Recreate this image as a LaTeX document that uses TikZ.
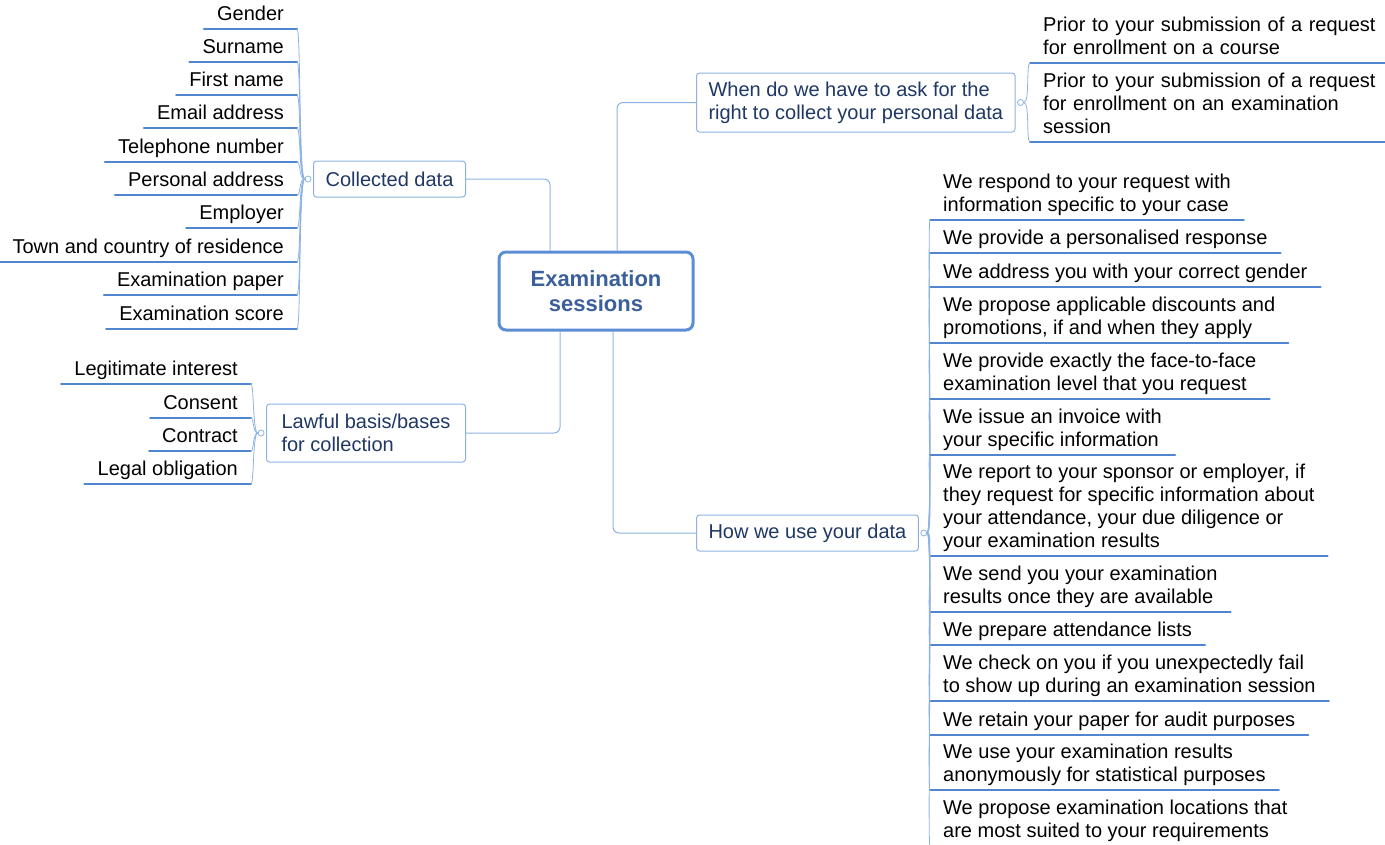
\documentclass[tikz,border=0pt]{standalone}
\usepackage{fontspec}
\setmainfont{Liberation Sans}
\usetikzlibrary{positioning}
\definecolor{linec}{HTML}{8DB3E2}
\definecolor{ulc}{HTML}{4F86CF}
\definecolor{hubc}{HTML}{5B8ED6}
\definecolor{hubtext}{HTML}{3A5F9A}
\definecolor{navy}{HTML}{1F3864}
\tikzset{
  hub/.style={draw=hubc, line width=3pt, rounded corners=7pt, fill=white, minimum width=194pt, minimum height=78pt, align=center, text=hubtext, font=\fontsize{22}{25}\selectfont\bfseries},
  branch/.style={draw=linec, line width=1pt, rounded corners=3pt, fill=white, align=left, text=navy, inner xsep=12pt, anchor=west, font=\fontsize{20}{23}\selectfont},
  leaf/.style={inner xsep=13pt, inner ysep=1.6pt, align=left, font=\fontsize{20}{23}\selectfont, execute at begin node=\strut, execute at end node=\strut},
  leafl/.style={leaf, anchor=south east, align=right},
  leafr/.style={leaf, anchor=south west},
  knob/.style={circle, draw=linec, fill=white, line width=0.8pt, inner sep=0pt, minimum size=6pt},
  conn/.style={draw=linec, line width=1pt, rounded corners=6pt},
  twig/.style={draw=linec, line width=0.8pt},
  uline/.style={draw=ulc, line width=2pt}
}
\begin{document}
\begin{tikzpicture}[x=1pt,y=-1pt,line cap=round,line join=round]
        \useasboundingbox (0,0) rectangle (1385,844);
        \node[hub] (hub) at (596,291) {Examination\\sessions};

        \node[branch, minimum width=152pt, minimum height=36pt] (coll) at (313,179) {Collected data};
        \node[branch, minimum width=317pt, minimum height=59pt] (when) at (696,102.5) {When do we have to ask for the\\right to collect your personal data};
        \node[branch, minimum width=199pt, minimum height=58pt] (law) at (266,433) {Lawful basis/bases\\for collection};
        \node[branch, minimum width=220pt, minimum height=36pt] (how) at (696,533) {How we use your data};

        \draw[conn] (coll.east) -| ([xshift=-46pt]hub.north);
        \draw[conn] (when.west) -| ([xshift=21pt]hub.north);
        \draw[conn] (law.east) -| ([xshift=-36pt]hub.south);
        \draw[conn] (how.west) -| ([xshift=17pt]hub.south);

        % collected data
        \node[leafl] (gender) at (297,29) {Gender};
        \node[leafl] (surname) at (297,62) {Surname};
        \node[leafl] (first) at (297,95) {First name};
        \node[leafl] (email) at (297,128) {Email address};
        \node[leafl] (phone) at (297,162) {Telephone number};
        \node[leafl] (home) at (297,195) {Personal address};
        \node[leafl] (employer) at (297,228) {Employer};
        \node[leafl] (town) at (297,262) {Town and country of residence};
        \node[leafl] (paper) at (297,295) {Examination paper};
        \node[leafl] (score) at (297,329) {Examination score};
        \node[knob, left=1.5pt of coll] (coll-k) {};
        \foreach \n in {gender,surname,first,email,phone,home,employer,town,paper,score}{
          \draw[uline] (\n.south west) -- (\n.south east);
          \draw[twig] (coll-k.west) .. controls +(-6,0) and +(4,0) .. (\n.south east);
        }

        % lawful basis
        \node[leafl] (legit) at (251,384) {Legitimate interest};
        \node[leafl] (consent) at (251,418) {Consent};
        \node[leafl] (contract) at (251,451) {Contract};
        \node[leafl] (legal) at (251,484) {Legal obligation};
        \node[knob, left=1.5pt of law] (law-k) {};
        \foreach \n in {legit,consent,contract,legal}{
          \draw[uline] (\n.south west) -- (\n.south east);
          \draw[twig] (law-k.west) .. controls +(-5,0) and +(3,0) .. (\n.south east);
        }

        % when
        \node[leafr, text width=350pt] (prior1) at (1030,63) {Prior to your submission of a request\\for enrollment on a course};
        \node[leafr, text width=350pt] (prior2) at (1030,142) {Prior to your submission of a request\\for enrollment on an examination\\session};
        \node[knob, right=1.5pt of when] (when-k) {};
        \foreach \n in {prior1,prior2}{
          \draw[uline] (\n.south west) -- (\n.south east);
          \draw[twig] (when-k.east) .. controls +(6,0) and +(-4,0) .. (\n.south west);
        }

        % how we use
        \node[leafr] (respond) at (930,220) {We respond to your request with\\information specific to your case};
        \node[leafr] (personal) at (930,253) {We provide a personalised response};
        \node[leafr] (address) at (930,287) {We address you with your correct gender};
        \node[leafr] (discount) at (930,343) {We propose applicable discounts and\\promotions, if and when they apply};
        \node[leafr] (level) at (930,399) {We provide exactly the face-to-face\\examination level that you request};
        \node[leafr] (invoice) at (930,455) {We issue an invoice with\\your specific information};
        \node[leafr] (report) at (930,556) {We report to your sponsor or employer, if\\they request for specific information about\\your attendance, your due diligence or\\your examination results};
        \node[leafr] (results) at (930,612) {We send you your examination\\results once they are available};
        \node[leafr] (lists) at (930,645) {We prepare attendance lists};
        \node[leafr] (check) at (930,701) {We check on you if you unexpectedly fail\\to show up during an examination session};
        \node[leafr] (retain) at (930,735) {We retain your paper for audit purposes};
        \node[leafr] (anon) at (930,790) {We use your examination results\\anonymously for statistical purposes};
        \node[leafr] (places) at (930,846) {We propose examination locations that\\are most suited to your requirements};
        \node[knob, right=1.5pt of how] (how-k) {};
        \foreach \n in {respond,personal,address,discount,level,invoice,report,results,lists,check,retain,anon,places}{
          \draw[uline] (\n.south west) -- (\n.south east);
          \draw[twig] (how-k.east) .. controls +(6,0) and +(-3,0) .. (\n.south west);
        }
\end{tikzpicture}
\end{document}
